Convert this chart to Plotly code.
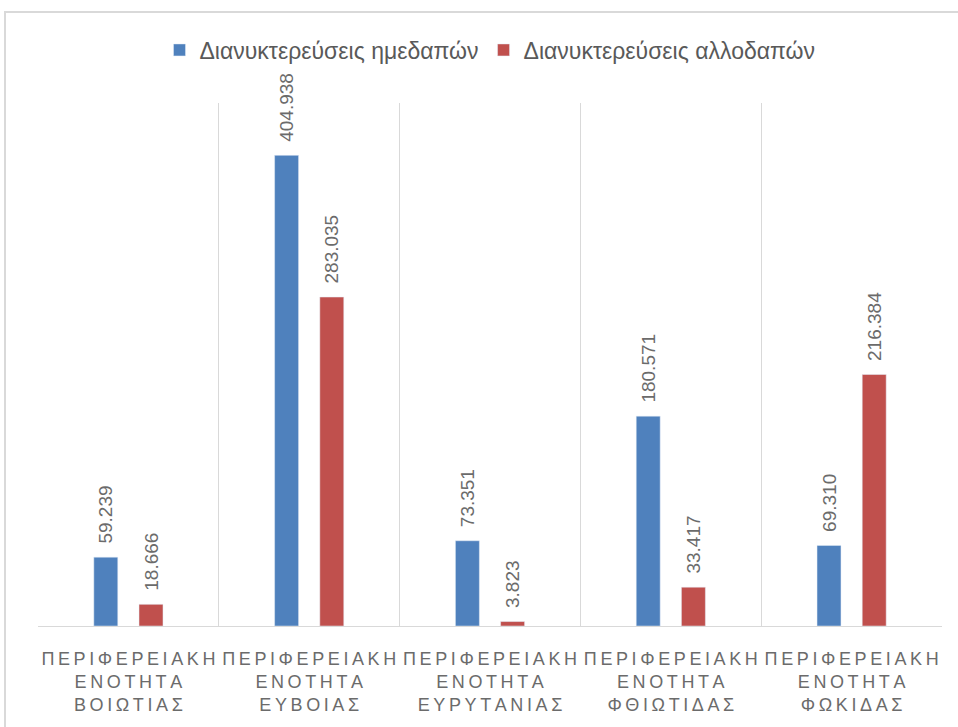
import plotly.graph_objects as go

# Overnight stays per regional unit (domestic vs. foreign guests)
units = ["ΒΟΙΩΤΙΑΣ", "ΕΥΒΟΙΑΣ", "ΕΥΡΥΤΑΝΙΑΣ", "ΦΘΙΩΤΙΔΑΣ", "ΦΩΚΙΔΑΣ"]
domestic = [59239, 404938, 73351, 180571, 69310]
foreign = [18666, 283035, 3823, 33417, 216384]
series_names = ["Διανυκτερεύσεις ημεδαπών", "Διανυκτερεύσεις αλλοδαπών"]


def spaced(word):
    # widen the letter spacing of the category labels
    return "\u2009".join(word)


categories = ["<br>".join([spaced("ΠΕΡΙΦΕΡΕΙΑΚΗ"), spaced("ΕΝΟΤΗΤΑ"), spaced(u)]) for u in units]

W, H = 958, 727
L, R, T, B = 38, 16, 103, 101
pw, ph = W - L - R, H - T - B

label_font = dict(family="Liberation Sans, Arial, sans-serif", size=19, color="#6B6B6B")

fig = go.Figure()
for vals, name, color in [(domestic, series_names[0], "#4F81BD"), (foreign, series_names[1], "#C0504D")]:
    fig.add_bar(x=categories, y=vals, name=name, marker_color=color,
                texttemplate="\u00a0\u00a0%{y:,}", textposition="outside", textangle=-90,
                constraintext="none", textfont=label_font, cliponaxis=False)

fig.update_layout(
    width=W, height=H,
    margin=dict(l=L, r=R, t=T, b=B, autoexpand=False),
    paper_bgcolor="white", plot_bgcolor="white",
    separators=",.",
    barmode="group", bargap=0.5, bargroupgap=0.47,
    legend=dict(orientation="h", x=0.5, xanchor="center", y=(626 - 50) / ph, yanchor="middle",
                font=dict(family="Liberation Sans Narrow, Arial Narrow, sans-serif", size=23, color="#595959"),
                itemwidth=30, traceorder="normal"),
    xaxis=dict(tickson="boundaries", showgrid=True, gridcolor="#D9D9D9", gridwidth=1,
               showline=True, linecolor="#D9D9D9", linewidth=1, ticks="",
               tickangle=0, automargin=False, ticklabelstandoff=16,
               tickfont=dict(family="Liberation Sans, Arial, sans-serif", size=18, color="#6B6B6B")),
    yaxis=dict(range=[0, 450000], visible=False, showgrid=False, zeroline=False, automargin=False),
    shapes=[dict(type="rect", xref="paper", yref="paper",
                 x0=(5 - L) / pw, x1=(W + 4 - L) / pw,
                 y0=-(H + 4 - T - ph) / ph, y1=(H - B - 12) / ph,
                 line=dict(color="#D9D9D9", width=2), layer="below")],
)

fig.write_html("out.html")
